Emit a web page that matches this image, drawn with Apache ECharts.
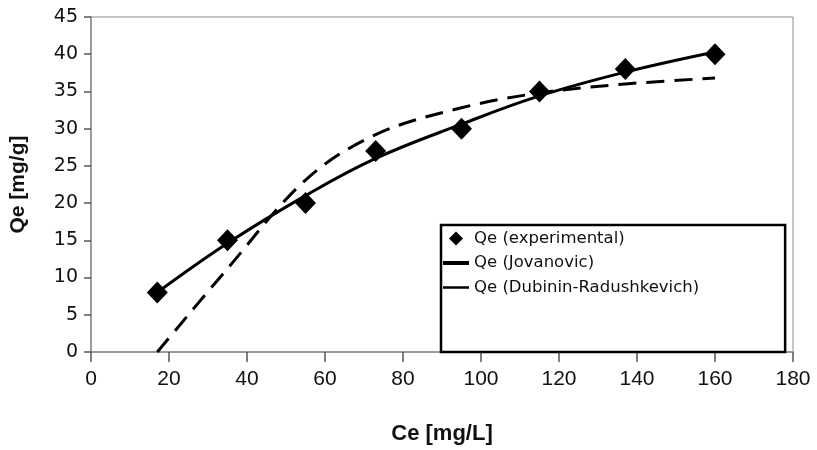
<!DOCTYPE html>
<html>
<head>
<meta charset="utf-8">
<script src="https://cdn.jsdelivr.net/npm/echarts@6/dist/echarts.min.js"></script>
<style>
html,body{margin:0;padding:0;background:#fff;}
#chart{width:817px;height:450px;}
</style>
</head>
<body>
<div id="chart"></div>
<script>
// Data
var ceExperimental = [17, 35, 55, 73, 95, 115, 137, 160];
var qeExperimental = [8, 15, 20, 27, 30, 35, 38, 40];
var qeJovanovic = [8, 14.6, 21, 26, 30.6, 34.4, 37.6, 40.3];
var qeDubinin = [0, 11.2, 23.1, 29.2, 32.8, 34.8, 36.0, 36.8];
var xTicks = {min: 0, max: 180, interval: 20};
var yTicks = {min: 0, max: 45, interval: 5};
var seriesNames = ['Qe (experimental)', 'Qe (Jovanovic)', 'Qe (Dubinin-Radushkevich)'];

function pairs(xs, ys) {
  return xs.map(function (x, i) { return [x, ys[i]]; });
}

var chart = echarts.init(document.getElementById('chart'), null, {renderer: 'canvas'});
chart.setOption({
  animation: false,
  backgroundColor: '#ffffff',
  grid: {
    left: 91, right: 24, top: 17, bottom: 94,
    show: true, borderColor: '#8c8c8c', borderWidth: 1, backgroundColor: 'transparent'
  },
  xAxis: {
    type: 'value',
    min: xTicks.min, max: xTicks.max, interval: xTicks.interval,
    name: 'Ce [mg/L]',
    nameLocation: 'middle',
    nameGap: 71,
    nameTextStyle: {fontFamily: 'Liberation Sans', fontWeight: 'bold', fontSize: 22, color: '#111'},
    axisLine: {lineStyle: {color: '#8c8c8c', width: 1.5}},
    axisTick: {show: true, length: 10, lineStyle: {color: '#555', width: 1.5}},
    axisLabel: {fontFamily: 'Liberation Sans', fontSize: 21, color: '#111', margin: 17},
    splitLine: {show: false}
  },
  yAxis: {
    type: 'value',
    min: yTicks.min, max: yTicks.max, interval: yTicks.interval,
    name: 'Qe [mg/g]',
    nameLocation: 'middle',
    nameGap: 62,
    nameTextStyle: {fontFamily: 'Liberation Sans', fontWeight: 'bold', fontSize: 21, color: '#111'},
    axisLine: {show: true, lineStyle: {color: '#8c8c8c', width: 1.5}},
    axisTick: {show: true, length: 7, lineStyle: {color: '#555', width: 1.5}},
    axisLabel: {fontFamily: 'DejaVu Sans', fontSize: 19, color: '#111', margin: 13},
    splitLine: {show: false}
  },
  legend: {
    orient: 'vertical',
    left: 441, top: 225,
    padding: [5, 86, 56, 2],
    itemWidth: 26, itemHeight: 14, itemGap: 7.5,
    borderColor: '#000', borderWidth: 2.5, backgroundColor: '#fff',
    textStyle: {fontFamily: 'DejaVu Sans', fontSize: 16.5, color: '#111'},
    data: [
      {name: seriesNames[0], icon: 'path://M12,0 L19,7 L12,14 L5,7 Z', itemStyle: {color: '#000', opacity: 1}},
      {name: seriesNames[1], icon: 'path://M0,0 L26,0 L26,4 L0,4 Z', itemStyle: {color: '#000'}},
      {name: seriesNames[2], icon: 'path://M0,0 L26,0 L26,2.5 L0,2.5 Z', itemStyle: {color: '#000'}}
    ]
  },
  series: [
    {
      name: seriesNames[1],
      type: 'line',
      data: pairs(ceExperimental, qeJovanovic),
      smooth: 0.4,
      symbol: 'none',
      lineStyle: {color: '#000', width: 3},
      itemStyle: {color: '#000'},
      z: 3
    },
    {
      name: seriesNames[2],
      type: 'line',
      data: pairs(ceExperimental, qeDubinin),
      smooth: 0.35,
      symbol: 'none',
      lineStyle: {color: '#000', width: 3, type: [18, 10]},
      itemStyle: {color: '#000'},
      z: 3
    },
    {
      name: seriesNames[0],
      type: 'scatter',
      data: pairs(ceExperimental, qeExperimental),
      symbol: 'diamond',
      symbolSize: [21, 22],
      itemStyle: {color: '#000', opacity: 1},
      z: 4
    }
  ]
});
</script>
</body>
</html>
